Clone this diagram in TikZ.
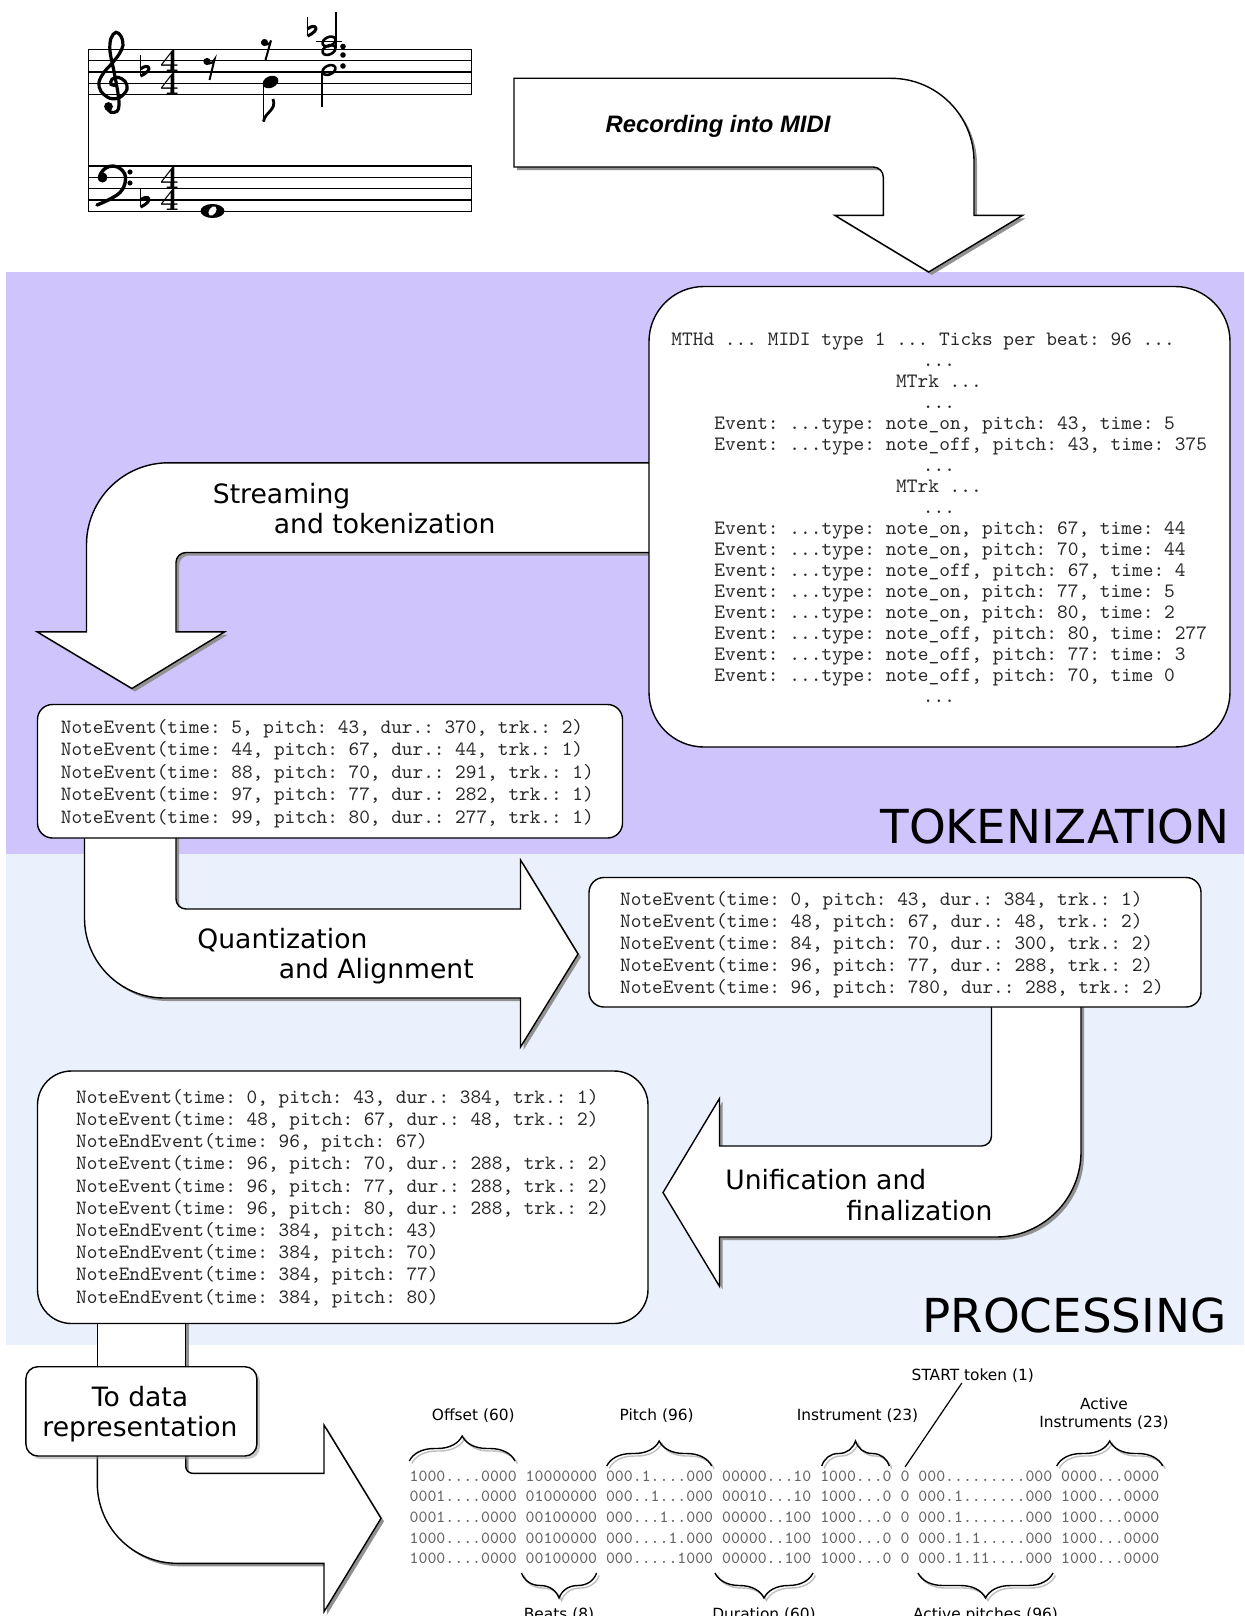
\documentclass[tikz,border=0pt]{standalone}
\usepackage{fontspec}
\usetikzlibrary{decorations.pathreplacing,shadows}
\newfontfamily\lblfont{DejaVu Sans}
\newfontfamily\recfont{Liberation Sans}
\definecolor{tokbg}{RGB}{207,196,252}
\definecolor{procbg}{RGB}{234,241,252}
\definecolor{shadowc}{RGB}{145,145,145}
\definecolor{datagray}{RGB}{100,100,100}
\definecolor{codetext}{RGB}{40,40,40}

\newcommand{\shpRec}[1]{\path[#1] (514,78.3) -- (891,78.3) .. controls (936.8,78.3) and (974,115.5) .. (974,161.3) -- (974,215.4) -- (1022.5,215.4) -- (928.7,272) -- (834.9,215.4) -- (883.3,215.4) -- (883.3,177) .. controls (883.3,171.5) and (878.8,167) .. (873.3,167) -- (514,167) -- cycle;}
\newcommand{\shpStream}[1]{\path[#1] (660,462.8) -- (168.5,462.8) .. controls (123.2,462.8) and (86.5,499.5) .. (86.5,544.8) -- (86.5,631.8) -- (37.1,631.8) -- (131.9,688.5) -- (224.7,631.8) -- (176,631.8) -- (176,562.5) .. controls (176,557) and (180.5,552.5) .. (186,552.5) -- (660,552.5) -- cycle;}
\newcommand{\shpQuant}[1]{\path[#1] (84.5,830) -- (84.5,918) .. controls (84.5,962.2) and (120.3,998) .. (164.5,998) -- (520.5,998) -- (520.5,1047) -- (578,954) -- (520.5,860) -- (520.5,909) -- (186,909) .. controls (180.5,909) and (176,904.5) .. (176,899) -- (176,830) -- cycle;}
\newcommand{\shpUnif}[1]{\path[#1] (991.5,1000) -- (991.5,1136) .. controls (991.5,1141.5) and (987,1146) .. (981.5,1146) -- (719.5,1146) -- (719.5,1098.5) -- (663,1192.5) -- (719.5,1286.3) -- (719.5,1237) -- (996,1237) .. controls (1042.9,1237) and (1081,1198.9) .. (1081,1152) -- (1081,1000) -- cycle;}
\newcommand{\shpStem}[1]{\path[#1] (97.3,1315) -- (97.3,1372) -- (185.7,1372) -- (185.7,1315) -- cycle;}
\newcommand{\shpToData}[1]{\path[#1] (97.3,1450) -- (97.3,1483.3) .. controls (97.3,1527.5) and (133.1,1563.3) .. (177.3,1563.3) -- (324,1563.3) -- (324,1611.7) -- (381,1518.3) -- (324,1425) -- (324,1473.3) -- (192.7,1473.3) .. controls (188.8,1473.3) and (185.7,1470.2) .. (185.7,1466.3) -- (185.7,1450) -- cycle;}

\begin{document}
\begin{tikzpicture}[x=0.5pt,y=-0.5pt,
  arrowbody/.style={fill=white,draw=black,line width=0.7pt,line join=miter},
  arrowshadow/.style={fill=shadowc,draw=none,shift={(3,3)}},
  box/.style={draw=black,fill=white,line width=0.7pt,inner sep=0pt,rectangle},
  codebig/.style={font=\ttfamily\fontsize{10.2}{12}\selectfont\frenchspacing,text=codetext,inner sep=0pt},
  codemid/.style={font=\ttfamily\fontsize{10.15}{12}\selectfont\frenchspacing,text=codetext,inner sep=0pt,anchor=base west},
  codesmall/.style={font=\ttfamily\fontsize{8.5}{10}\selectfont\frenchspacing,text=datagray,inner sep=0pt,anchor=base west},
  stagelbl/.style={font=\lblfont\fontsize{13.3}{16}\selectfont,inner sep=0pt,anchor=base west},
  sectionlbl/.style={font=\lblfont\fontsize{23.4}{28}\selectfont,inner sep=0pt,anchor=base east},
  fieldlbl/.style={font=\lblfont\fontsize{7.7}{9.2}\selectfont,inner sep=0pt,anchor=base},
  bracedeco/.style={decorate,decoration={brace,amplitude=12.5pt},line width=0.7pt},
  braceshadow/.style={bracedeco,draw=black!25,shift={(2.5,2.5)}},
  staffline/.style={line width=0.55pt},
  tsig/.style={font=\fontsize{16.5}{11.35}\selectfont\bfseries,inner sep=0pt,align=center,anchor=center}]

\fill[white] (0,0) rectangle (1244,1616);
\useasboundingbox (0,0) rectangle (1244,1616);

% bands
\fill[tokbg] (6,272) rectangle (1244,854);
\fill[procbg] (6,854) rectangle (1244,1345);

% ---------------- music ----------------
\foreach \yy in {49.3,60.7,72,83.3,94.7,166,177.3,188.7,200,211.3}
  \draw[staffline] (88.3,\yy) -- (471.7,\yy);
\draw[staffline] (88.3,49.3) -- (88.3,211.3);
\draw[staffline] (471.7,49.3) -- (471.7,94.7);
\draw[staffline] (471.7,166) -- (471.7,211.3);

% treble clef
\draw[line width=1.6pt,line cap=round] plot[smooth,tension=0.6] coordinates {(116,85.3) (111,84.3) (112,79.3) (118,77.3) (125,81.3) (127,89.3) (120,97.3) (110,98.3) (101,91.3) (99,82.3) (104,72.3) (112,63.3) (119,54.3) (123,45.3) (121,36.3) (116,32.3) (111,38.3) (110,51.3) (114,71.3) (118,93.3) (119,105.3) (117,111.3) (111,112.3) (107,108.3)};
\fill (108.5,106.5) circle[radius=2.2pt];

% bass clef
\fill (102.5,177.5) circle[radius=2.5pt];
\draw[line width=1.7pt,line cap=round] plot[smooth,tension=0.7] coordinates {(100,175) (105,168.5) (113.5,166) (122,170) (125.5,178.5) (122,190) (112,198) (97,205)};
\fill (130,172) circle[radius=1.3pt];
\fill (130,183) circle[radius=1.3pt];

% flats
\draw[line width=0.6pt] (140.5,55.5) -- (140.5,76);
\draw[line width=1.5pt] (140.5,69) .. controls (148,62.5) and (155,69.5) .. (140.5,76);
\draw[line width=0.6pt] (140.5,187.5) -- (140.5,207);
\draw[line width=1.5pt] (140.5,200) .. controls (148,193.5) and (155,200.5) .. (140.5,207);
\draw[line width=0.6pt] (307.5,17) -- (307.5,36);
\draw[line width=1.5pt] (307.5,29) .. controls (315,22.5) and (322,29.5) .. (307.5,36);

% time signatures
\node[tsig] (tstreble) at (169.5,72) {4\\4};
\node[tsig] (tsbass) at (169.5,188.7) {4\\4};

% rests
\fill (207,61.5) circle[radius=1.8pt];
\draw[line width=1pt] (207,63) .. controls (210,64.5) and (213,62.5) .. (214.5,59.5) -- (209.5,80);
\fill (264.5,42.5) circle[radius=1.8pt];
\draw[line width=1pt] (264.5,44) .. controls (267.5,45.5) and (270,43.5) .. (271,40.5) -- (265.5,60);

% eighth note
\fill[rotate around={25:(270.5,82)}] (270.5,82) ellipse[x radius=4.1pt,y radius=2.9pt];
\draw[line width=0.7pt] (263.5,83) -- (263.5,121.7);
\draw[line width=1.4pt] (263.5,121.5) .. controls (265,112) and (277,110) .. (273,99);

% dotted half note
\draw[line width=1.3pt,rotate around={25:(329,70)}] (329,70) ellipse[x radius=3.4pt,y radius=2.2pt];
\draw[line width=0.7pt] (322,71.5) -- (322,106.7);
\fill (343,66) circle[radius=1.4pt];

% chord
\draw[line width=0.7pt] (316,41.5) -- (342,41.5);
\draw[line width=1.3pt,rotate around={25:(329,41.5)}] (329,41.5) ellipse[x radius=3.4pt,y radius=2.2pt];
\draw[line width=1.3pt,rotate around={25:(329,50)}] (329,50) ellipse[x radius=3.4pt,y radius=2.2pt];
\draw[line width=0.7pt] (336,48.5) -- (336,12);
\fill (343,46.5) circle[radius=1.4pt];
\fill (343,55) circle[radius=1.4pt];

% whole note
\fill (212.5,211) ellipse[x radius=6pt,y radius=3.5pt];
\fill[white,rotate around={55:(212.5,211)}] (212.5,211) ellipse[x radius=2.6pt,y radius=1.7pt];

% ---------------- arrows ----------------
\shpRec{arrowshadow}\shpRec{arrowbody}
\shpStream{arrowshadow}\shpStream{arrowbody}
\shpQuant{arrowshadow}\shpQuant{arrowbody}
\shpUnif{arrowshadow}\shpUnif{arrowbody}
\shpStem{arrowshadow}\shpStem{arrowbody}
\shpToData{arrowshadow}\shpToData{arrowbody}

% ---------------- boxes ----------------
\node[box,minimum width=290.5pt,minimum height=230.25pt,rounded corners=27.5pt] (midibox) at (939.5,516.75) {};
\node[box,minimum width=292.5pt,minimum height=66.75pt,rounded corners=7.5pt] (tokbox) at (330,771.25) {};
\node[box,minimum width=306pt,minimum height=64.75pt,rounded corners=7.5pt] (quantbox) at (895,942.25) {};
\node[box,minimum width=305.25pt,minimum height=126.25pt,rounded corners=17pt] (finalbox) at (342.75,1197.25) {};
\node[box,minimum width=115.5pt,minimum height=44.65pt,rounded corners=6pt,drop shadow={shadow xshift=1.5pt,shadow yshift=-1.5pt,fill=shadowc}] (todatabox) at (141.4,1411.35) {};

% ---------------- MIDI text ----------------
\node[codebig,anchor=base west] (m1) at (671,345) {MTHd ... MIDI type 1 ... Ticks per beat: 96 ...};
\node[codebig,anchor=base] (m2) at (939,366) {...};
\node[codebig,anchor=base] (m3) at (939,387) {MTrk ...};
\node[codebig,anchor=base] (m4) at (939,408) {...};
\node[codebig,anchor=base west] (m5) at (714,429) {Event: ...type: note\_on, pitch: 43, time: 5};
\node[codebig,anchor=base west] (m6) at (714,450) {Event: ...type: note\_off, pitch: 43, time: 375};
\node[codebig,anchor=base] (m7) at (939,471) {...};
\node[codebig,anchor=base] (m8) at (939,492) {MTrk ...};
\node[codebig,anchor=base] (m9) at (939,513) {...};
\node[codebig,anchor=base west] (m10) at (714,534) {Event: ...type: note\_on, pitch: 67, time: 44};
\node[codebig,anchor=base west] (m11) at (714,555) {Event: ...type: note\_on, pitch: 70, time: 44};
\node[codebig,anchor=base west] (m12) at (714,576) {Event: ...type: note\_off, pitch: 67, time: 4};
\node[codebig,anchor=base west] (m13) at (714,597) {Event: ...type: note\_on, pitch: 77, time: 5};
\node[codebig,anchor=base west] (m14) at (714,618) {Event: ...type: note\_on, pitch: 80, time: 2};
\node[codebig,anchor=base west] (m15) at (714,639) {Event: ...type: note\_off, pitch: 80, time: 277};
\node[codebig,anchor=base west] (m16) at (714,660) {Event: ...type: note\_off, pitch: 77: time: 3};
\node[codebig,anchor=base west] (m17) at (714,681) {Event: ...type: note\_off, pitch: 70, time 0};
\node[codebig,anchor=base] (m18) at (939,702) {...};

% ---------------- NoteEvent boxes ----------------
\foreach \t [count=\i] in {{NoteEvent(time: 5, pitch: 43, dur.: 370, trk.: 2)},{NoteEvent(time: 44, pitch: 67, dur.: 44, trk.: 1)},{NoteEvent(time: 88, pitch: 70, dur.: 291, trk.: 1)},{NoteEvent(time: 97, pitch: 77, dur.: 282, trk.: 1)},{NoteEvent(time: 99, pitch: 80, dur.: 277, trk.: 1)}}
  \node[codemid] (ta\i) at (60.5,{733+22.5*(\i-1)}) {\t};
\foreach \t [count=\i] in {{NoteEvent(time: 0, pitch: 43, dur.: 384, trk.: 1)},{NoteEvent(time: 48, pitch: 67, dur.: 48, trk.: 2)},{NoteEvent(time: 84, pitch: 70, dur.: 300, trk.: 2)},{NoteEvent(time: 96, pitch: 77, dur.: 288, trk.: 2)},{NoteEvent(time: 96, pitch: 780, dur.: 288, trk.: 2)}}
  \node[codemid] (qa\i) at (619.8,{905+22.1*(\i-1)}) {\t};
\foreach \t [count=\i] in {{NoteEvent(time: 0, pitch: 43, dur.: 384, trk.: 1)},{NoteEvent(time: 48, pitch: 67, dur.: 48, trk.: 2)},{NoteEndEvent(time: 96, pitch: 67)},{NoteEvent(time: 96, pitch: 70, dur.: 288, trk.: 2)},{NoteEvent(time: 96, pitch: 77, dur.: 288, trk.: 2)},{NoteEvent(time: 96, pitch: 80, dur.: 288, trk.: 2)},{NoteEndEvent(time: 384, pitch: 43)},{NoteEndEvent(time: 384, pitch: 70)},{NoteEndEvent(time: 384, pitch: 77)},{NoteEndEvent(time: 384, pitch: 80)}}
  \node[codemid] (fa\i) at (75.8,{1103.3+22.2*(\i-1)}) {\t};

% ---------------- stage labels ----------------
\node[font=\recfont\bfseries\itshape\fontsize{11.9}{14}\selectfont,inner sep=0pt,anchor=base] (rec) at (718,133) {Recording into MIDI};
\node[stagelbl] (st1) at (212.5,503) {Streaming};
\node[stagelbl] (st2) at (273.5,533) {and tokenization};
\node[stagelbl] (qu1) at (197,948) {Quantization};
\node[stagelbl] (qu2) at (278.5,978) {and Alignment};
\node[stagelbl] (un1) at (725,1189) {Unification and};
\node[stagelbl] (un2) at (846,1220) {finalization};
\node[font=\lblfont\fontsize{13.3}{16}\selectfont,inner sep=0pt,anchor=base] (td1) at (140,1406.7) {To data};
\node[font=\lblfont\fontsize{13.3}{16}\selectfont,inner sep=0pt,anchor=base] (td2) at (140,1436.7) {representation};
\node[sectionlbl] (tokname) at (1230,843) {TOKENIZATION};
\node[sectionlbl] (procname) at (1227,1332) {PROCESSING};

% ---------------- data representation ----------------
\node[codesmall] (d1) at (409.3,1481) {1000....0000 10000000 000.1....000 00000...10 1000...0 0 000.........000 0000...0000};
\node[codesmall] (d2) at (409.3,1501.7) {0001....0000 01000000 000..1...000 00010...10 1000...0 0 000.1.......000 1000...0000};
\node[codesmall] (d3) at (409.3,1522.4) {0001....0000 00100000 000...1..000 00000..100 1000...0 0 000.1.......000 1000...0000};
\node[codesmall] (d4) at (409.3,1543.1) {1000....0000 00100000 000....1.000 00000..100 1000...0 0 000.1.1.....000 1000...0000};
\node[codesmall] (d5) at (409.3,1563.8) {1000....0000 00100000 000.....1000 00000..100 1000...0 0 000.1.11....000 1000...0000};

\foreach \xa/\xb/\yb in {409.3/515/1461,606.7/711.7/1466,821.7/889.3/1466,1056.7/1162.7/1466}{
  \draw[braceshadow] (\xa,\yb) -- (\xb,\yb);
  \draw[bracedeco] (\xa,\yb) -- (\xb,\yb);
}
\foreach \xa/\xb in {521.5/596.6,715/813,918/1053}{
  \draw[braceshadow] (\xb,1573) -- (\xa,1573);
  \draw[bracedeco] (\xb,1573) -- (\xa,1573);
}

\node[fieldlbl] (offlbl) at (473.3,1420.5) {Offset (60)};
\node[fieldlbl] (pitchlbl) at (656.7,1420.5) {Pitch (96)};
\node[fieldlbl] (instlbl) at (857.5,1420.5) {Instrument (23)};
\node[fieldlbl] (startlbl) at (972.8,1380.6) {START token (1)};
\node[fieldlbl] (actlbla) at (1104,1409) {Active};
\node[fieldlbl] (actlblb) at (1104,1427) {Instruments (23)};
\node[fieldlbl] (beatlbl) at (559,1619.5) {Beats (8)};
\node[fieldlbl] (durlbl) at (764,1619.5) {Duration (60)};
\node[fieldlbl] (aplbl) at (985.5,1619.5) {Active pitches (96)};
\coordinate (startend) at (905,1467);
\draw[line width=0.6pt] ([xshift=-5.5pt]startlbl.south) -- (startend);

\end{tikzpicture}
\end{document}
